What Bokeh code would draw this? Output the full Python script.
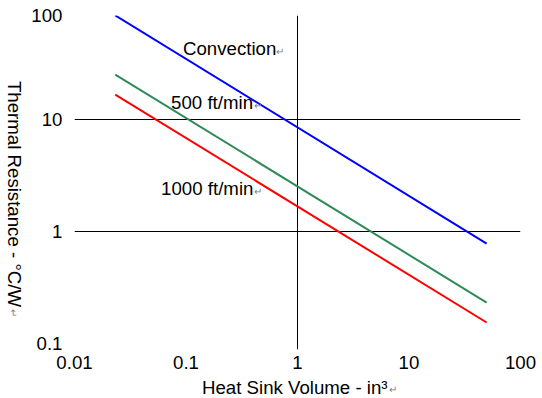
import math
from bokeh.plotting import figure
from bokeh.layouts import row, column
from bokeh.models import FixedTicker, Range1d
from bokeh.core.properties import value
from bokeh.embed import file_html
from bokeh.resources import INLINE

# ---------------- data ----------------
volume_in3 = [0.0232, 49.7]          # heat sink volume, in^3 (line end points)
res_convection = [84.9, 0.78]        # thermal resistance, degC/W
res_500 = [25.2, 0.232]
res_1000 = [16.7, 0.154]

series_names = ["Convection", "500 ft/min", "1000 ft/min"]
series_colors = ["#0000FF", "#2E8B57", "#FF0000"]

x_ticks = [0.01, 0.1, 1, 10, 100]
x_tick_labels = ["0.01", "0.1", "1", "10", "100"]
y_ticks = [0.1, 1, 10, 100]
y_tick_labels = ["0.1", "1", "10", "100"]

x_title = "Heat Sink Volume - in\u00b3"
y_title = "Thermal Resistance - \u00b0C/W"
para_mark = "\u21b5"

X_RANGE = (0.01, 100)
Y_RANGE = (0.0884, 84.8)

# annotation anchor positions (data coords)
label_x = [0.094, 0.0735, 0.0598]
label_y = [43.0, 14.2, 2.42]
mark_x = [0.70, 0.445, 0.445]
mark_y = [40.5, 13.3, 2.28]

FONT = "Liberation Sans"
FS = "18.67px"
MARK_FS = "10px"
MARK_COLOR = "#7f7f7f"

xr = Range1d(*X_RANGE)
yr = Range1d(*Y_RANGE)

# ---------------- main plot ----------------
p = figure(width=514, height=376, x_axis_type="log", y_axis_type="log",
           x_range=xr, y_range=yr,
           output_backend="svg", toolbar_location=None,
           min_border_left=44, min_border_right=22,
           min_border_top=15, min_border_bottom=27)
p.outline_line_color = None
p.background_fill_color = "white"
p.border_fill_color = "white"

p.xgrid.ticker = FixedTicker(ticks=[x_ticks[2]])
p.ygrid.ticker = FixedTicker(ticks=[y_ticks[1], y_ticks[2]])
for g in (p.xgrid, p.ygrid):
    g.grid_line_color = "black"
    g.grid_line_width = 1
    g.grid_line_alpha = 1.0
    g.minor_grid_line_color = None

xa = p.xaxis[0]
xa.ticker = FixedTicker(ticks=x_ticks)
xa.major_label_overrides = {t: l for t, l in zip(x_ticks, x_tick_labels)}
ya = p.yaxis[0]
y_tick_pos = y_ticks[:-1] + [Y_RANGE[1] * 0.9999]
ya.ticker = FixedTicker(ticks=y_tick_pos)
ya.major_label_overrides = {t: l for t, l in zip(y_tick_pos, y_tick_labels)}
for ax in (xa, ya):
    ax.axis_line_color = None
    ax.major_tick_line_color = None
    ax.minor_tick_line_color = None
    ax.major_tick_out = 0
    ax.major_tick_in = 0
    ax.major_label_text_font = FONT
    ax.major_label_text_font_size = FS
    ax.major_label_text_color = "black"
xa.major_label_standoff = 6
ya.major_label_standoff = 12

for ys, c in zip([res_convection, res_500, res_1000], series_colors):
    p.line(volume_in3, ys, line_color=c, line_width=2)

p.text(x=label_x, y=label_y, text=series_names, text_font=value(FONT),
       text_font_size=FS, text_align="left", text_baseline="middle",
       text_color="black")
p.text(x=mark_x, y=mark_y, text=[para_mark] * 3, text_font=value(FONT),
       text_font_size=MARK_FS, text_align="center", text_baseline="middle",
       text_color=MARK_COLOR)

# ---------------- y-axis title strip (reads top to bottom) ----------------
yt = figure(width=28, height=398, x_range=(0, 1), y_range=yr, y_axis_type="log",
            x_axis_location=None, y_axis_location=None,
            output_backend="svg", toolbar_location=None,
            min_border_left=0, min_border_right=0,
            min_border_top=15, min_border_bottom=49)
yt.outline_line_color = None
yt.xgrid.visible = False
yt.ygrid.visible = False
yt.text(x=[0.5], y=[2.16], text=[y_title], text_font=value(FONT),
        text_font_size=FS, text_align="center", text_baseline="middle",
        angle=-math.pi / 2, text_color="black")
yt.text(x=[0.46], y=[0.189], text=[para_mark], text_font=value(FONT),
        text_font_size=MARK_FS, text_align="center", text_baseline="middle",
        angle=-math.pi / 2, text_color=MARK_COLOR)

# ---------------- x-axis title strip ----------------
xt = figure(width=514, height=22, x_range=xr, y_range=(0, 1), x_axis_type="log",
            x_axis_location=None, y_axis_location=None,
            output_backend="svg", toolbar_location=None,
            min_border_left=44, min_border_right=22,
            min_border_top=0, min_border_bottom=0)
xt.outline_line_color = None
xt.xgrid.visible = False
xt.ygrid.visible = False
xt.text(x=[0.139], y=[0.5], text=[x_title], text_font=value(FONT),
        text_font_size=FS, text_align="left", text_baseline="middle",
        text_color="black")
xt.text(x=[7.2], y=[0.41], text=[para_mark], text_font=value(FONT),
        text_font_size=MARK_FS, text_align="center", text_baseline="middle",
        text_color=MARK_COLOR)

layout = row(yt, column(p, xt, spacing=0), spacing=0)
open("out.html", "w").write(file_html(layout, INLINE))
